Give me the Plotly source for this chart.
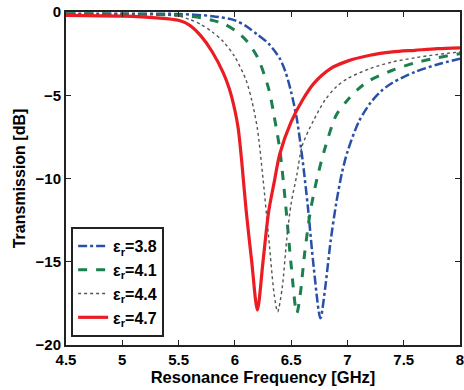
import plotly.graph_objects as go

# eps_r = 3.8 (blue dash-dot)
x_38 = [4.5, 5.0, 5.5, 5.8, 6.0, 6.1, 6.2, 6.3, 6.4, 6.45, 6.5, 6.55, 6.6, 6.65, 6.7, 6.76, 6.8, 6.85, 6.9, 6.95, 7.0, 7.1, 7.2, 7.3, 7.4, 7.6, 7.8, 8.0]
y_38 = [-0.1, -0.1, -0.12, -0.25, -0.5, -0.85, -1.35, -1.9, -2.8, -3.6, -4.8, -6.4, -8.8, -11.8, -15.3, -18.4, -16.7, -13.8, -11.5, -9.7, -8.4, -6.6, -5.5, -4.75, -4.25, -3.6, -3.15, -2.8]

# eps_r = 4.1 (green dashed)
x_41 = [4.5, 5.0, 5.5, 5.7, 5.8, 5.9, 6.0, 6.1, 6.2, 6.3, 6.35, 6.4, 6.45, 6.5, 6.55, 6.58, 6.62, 6.67, 6.73, 6.8, 6.9, 7.0, 7.1, 7.2, 7.4, 7.6, 7.8, 8.0]
y_41 = [-0.1, -0.12, -0.2, -0.35, -0.5, -0.7, -1.1, -1.7, -2.7, -4.6, -6.3, -8.3, -11.5, -15.2, -18.1, -17.0, -14.5, -12.0, -10.0, -8.2, -6.2, -5.3, -4.6, -4.1, -3.5, -3.05, -2.75, -2.5]

# eps_r = 4.4 (gray dotted)
x_44 = [4.5, 5.0, 5.5, 5.6, 5.7, 5.8, 5.9, 6.0, 6.1, 6.15, 6.2, 6.25, 6.3, 6.35, 6.38, 6.42, 6.46, 6.5, 6.55, 6.6, 6.7, 6.8, 6.9, 7.0, 7.2, 7.4, 7.6, 7.8, 8.0]
y_44 = [-0.1, -0.15, -0.25, -0.45, -0.75, -1.2, -1.8, -2.7, -4.1, -5.3, -7.0, -10.0, -13.5, -17.0, -18.0, -16.6, -13.7, -11.5, -9.8, -8.0, -6.5, -5.3, -4.5, -4.0, -3.4, -3.0, -2.75, -2.55, -2.4]

# eps_r = 4.7 (red solid)
x_47 = [4.5, 5.0, 5.3, 5.5, 5.6, 5.7, 5.8, 5.9, 5.95, 6.0, 6.03, 6.06, 6.1, 6.15, 6.2, 6.25, 6.3, 6.35, 6.4, 6.5, 6.6, 6.7, 6.85, 7.0, 7.2, 7.4, 7.6, 7.8, 8.0]
y_47 = [-0.2, -0.25, -0.35, -0.5, -0.8, -1.45, -2.4, -3.7, -4.6, -5.9, -7.0, -8.9, -11.9, -15.0, -17.9, -15.0, -12.0, -10.2, -8.5, -6.6, -5.3, -4.3, -3.4, -2.95, -2.6, -2.4, -2.3, -2.2, -2.15]

series = [
    ("ε<sub>r</sub>=3.8", x_38, y_38, "#2a4fa8", "dashdot", 2.5),
    ("ε<sub>r</sub>=4.1", x_41, y_41, "#1b7f4f", "dash", 3),
    ("ε<sub>r</sub>=4.4", x_44, y_44, "#555555", "dot", 1.4),
    ("ε<sub>r</sub>=4.7", x_47, y_47, "#ec1c24", "solid", 3.2),
]

x_ticks = [4.5, 5, 5.5, 6, 6.5, 7, 7.5, 8]
x_tick_text = ["4.5", "5", "5.5", "6", "6.5", "7", "7.5", "8"]
y_ticks = [0, -5, -10, -15, -20]
y_tick_text = ["0", "−5", "−10", "−15", "−20"]

fig = go.Figure()
for name, xs, ys, col, dash, w in series:
    fig.add_trace(go.Scatter(x=xs, y=ys, mode="lines", name=name,
                             line=dict(color=col, dash=dash, width=w, shape="spline", smoothing=0.8)))

fam = "Liberation Sans, Arial, sans-serif"
font = dict(family=fam, size=15, color="black")
axis_common = dict(showgrid=False, zeroline=False, showline=True, linecolor="#222",
                   linewidth=2, mirror="ticks", ticks="inside", ticklen=5, tickwidth=1,
                   tickcolor="#222", ticklabeloverflow="allow",
                   tickfont=dict(family=fam, size=15, color="black", weight="bold"))
fig.update_xaxes(range=[4.5, 8], tickvals=x_ticks, ticktext=x_tick_text,
                 title=dict(text="<b>Resonance Frequency [GHz]</b>", font=dict(family=fam, size=16.5, color="black"), standoff=1),
                 **axis_common)
fig.update_yaxes(range=[-20, 0], tickvals=y_ticks, ticktext=y_tick_text,
                 title=dict(text="<b>Transmission [dB]</b>", font=dict(family=fam, size=16, color="black"), standoff=6),
                 **axis_common)
fig.update_layout(
    width=464, height=390,
    margin=dict(l=66, r=0, t=12, b=45),
    plot_bgcolor="white", paper_bgcolor="white",
    font=font,
    showlegend=True,
    legend=dict(x=0.013, y=0.024, xanchor="left", yanchor="bottom",
                bgcolor="white", bordercolor="#222", borderwidth=2,
                font=dict(family=fam, size=16, color="black", weight="bold"),
                tracegroupgap=0, itemwidth=30),
)
fig.write_html("out.html")
